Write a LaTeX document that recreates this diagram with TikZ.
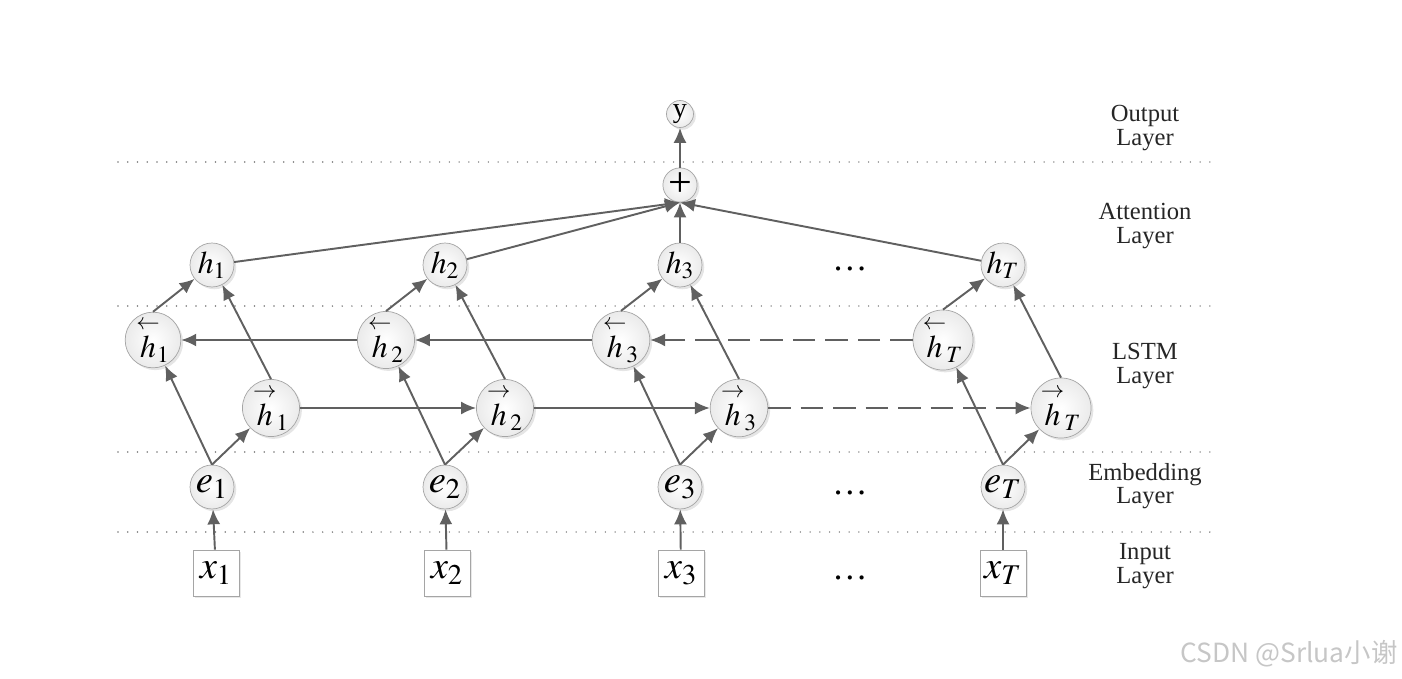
\documentclass[tikz,border=0pt]{standalone}
\usepackage{amsmath}
\usepackage{mathptmx}
\usepackage[no-math]{fontspec}
\setmainfont{Liberation Serif}
\newfontfamily\cjkfont{Noto Sans CJK SC}
\usetikzlibrary{arrows.meta,positioning,shadows}
\definecolor{GrisFlecha}{RGB}{96,96,96}
\definecolor{GrisBorde}{RGB}{165,165,165}
\definecolor{GrisPunto}{RGB}{120,120,120}
\tikzset{
  unidad/.style={circle, draw=GrisBorde, line width=0.4pt, inner color=white, outer color=gray!16,
    minimum size=#1, inner sep=0pt,
    drop shadow={shadow xshift=1.3pt, shadow yshift=-1.3pt, fill=gray!45, opacity=0.45}},
  unidad/.default=0.88cm,
  hnode/.style={unidad, font=\fontsize{18}{18}\selectfont},
  enode/.style={unidad, font=\fontsize{22}{22}\selectfont},
  minibox/.style={unidad=0.54cm, font=\fontsize{16}{16}\selectfont},
  inbox/.style={draw=GrisBorde, line width=0.4pt, fill=white, minimum size=0.92cm, inner sep=0pt,
    font=\fontsize{22}{22}\selectfont,
    drop shadow={shadow xshift=1pt, shadow yshift=-1pt, fill=gray!35, opacity=0.5}},
  flecha/.style={-{Latex[length=3mm, width=2.6mm]}, line width=1.1pt, GrisFlecha},
  flechadash/.style={flecha, dash pattern=on 4.5mm off 2mm},
  capa/.style={align=center, font=\fontsize{14}{13.5}\selectfont, text=black!85},
  sep/.style={GrisPunto, line width=0.9pt, line cap=round, dash pattern=on 0pt off 1.95mm},
  puntos/.style={font=\fontsize{20}{20}\selectfont},
}
\begin{document}
\begin{tikzpicture}[x=0.02cm, y=-0.02cm]
  \useasboundingbox (0,0) rectangle (1402,679);

  % separadores de capas
  \draw[sep] (118,162) -- (1215,162);
  \draw[sep] (118,306) -- (1215,306);
  \draw[sep] (118,452) -- (1215,452);
  \draw[sep] (118,532) -- (1215,532);

  % salida y atencion
  \node[minibox] (y) at (680,114) {y};
  \node[minibox, font=\fontsize{24}{24}\selectfont] (suma) at (680,185) {\raisebox{0.5pt}{+}};

  \node[hnode] (h1) at (212,265) {$h_1$};
  \node[hnode] (h2) at (445,265) {$h_2$};
  \node[hnode] (h3) at (680,265) {$h_3$};
  \node[hnode] (hT) at (1003,265) {$h_T$};

  % LSTM hacia atras y hacia adelante
  \node[hnode] (bh1) at (153,340) {$\overset{\leftarrow}{h}_{\!1}$};
  \node[hnode] (bh2) at (386,340) {$\overset{\leftarrow}{h}_{2}$};
  \node[hnode] (bh3) at (621,340) {$\overset{\leftarrow}{h}_{3}$};
  \node[hnode] (bhT) at (943,340) {$\overset{\leftarrow}{h}_{T}$};

  \node[hnode] (fh1) at (271,408) {$\overset{\rightarrow}{h}_{1}$};
  \node[hnode] (fh2) at (505,408) {$\overset{\rightarrow}{h}_{2}$};
  \node[hnode] (fh3) at (739,408) {$\overset{\rightarrow}{h}_{3}$};
  \node[hnode] (fhT) at (1061,408) {$\overset{\rightarrow}{h}_{T}$};

  % embedding y entrada
  \node[enode] (e1) at (212,487) {$e_1$};
  \node[enode] (e2) at (445,487) {$e_2$};
  \node[enode] (e3) at (680,487) {$e_3$};
  \node[enode] (eT) at (1003,487) {$e_T$};

  \node[inbox] (x1) at (216,573) {$x_1$};
  \node[inbox] (x2) at (447,573) {$x_2$};
  \node[inbox] (x3) at (681,573) {$x_3$};
  \node[inbox] (xT) at (1003,573) {$x_T$};

  \node[puntos] (d1) at (850,269) {\ldots};
  \node[puntos] (d2) at (850,493) {\ldots};
  \node[puntos] (d3) at (850,578) {\ldots};

  % etiquetas de capas
  \node[capa] (lOut) at (1145,128) {Output\\Layer};
  \node[capa] (lAtt) at (1145,226) {Attention\\Layer};
  \node[capa] (lLstm) at (1145,366) {LSTM\\Layer};
  \node[capa] (lEmb) at (1145,486) {Embedding\\Layer};
  \node[capa] (lIn) at (1145,566) {Input\\Layer};

  \node[text=gray!45, font=\cjkfont\fontsize{15}{15}\selectfont] (marca) at (1289,654) {CSDN @Srlua小谢};

  % conexiones
  \draw[flecha] (x1) -- (e1);
  \draw[flecha] (x2) -- (e2);
  \draw[flecha] (x3) -- (e3);
  \draw[flecha] (xT) -- (eT);

  \draw[flecha] (e1.north) -- (bh1);
  \draw[flecha] (e2.north) -- (bh2);
  \draw[flecha] (e3.north) -- (bh3);
  \draw[flecha] (eT.north) -- (bhT);
  \draw[flecha] (e1.north) -- (fh1);
  \draw[flecha] (e2.north) -- (fh2);
  \draw[flecha] (e3.north) -- (fh3);
  \draw[flecha] (eT.north) -- (fhT);

  \draw[flecha] (bh2) -- (bh1);
  \draw[flecha] (bh3) -- (bh2);
  \draw[flechadash] (bhT) -- (bh3);
  \draw[flecha] (fh1) -- (fh2);
  \draw[flecha] (fh2) -- (fh3);
  \draw[flechadash] (fh3) -- (fhT);

  \draw[flecha] (bh1.north) -- (h1);
  \draw[flecha] (bh2.north) -- (h2);
  \draw[flecha] (bh3.north) -- (h3);
  \draw[flecha] (bhT.north) -- (hT);
  \draw[flecha] (fh1.north) -- (h1);
  \draw[flecha] (fh2.north) -- (h2);
  \draw[flecha] (fh3.north) -- (h3);
  \draw[flecha] (fhT.north) -- (hT);

  \draw[flecha] (h1) -- (suma.south);
  \draw[flecha] (h2) -- (suma.south);
  \draw[flecha] (h3) -- (suma.south);
  \draw[flecha] (hT) -- (suma.south);
  \draw[flecha] (suma) -- (y);
\end{tikzpicture}
\end{document}
